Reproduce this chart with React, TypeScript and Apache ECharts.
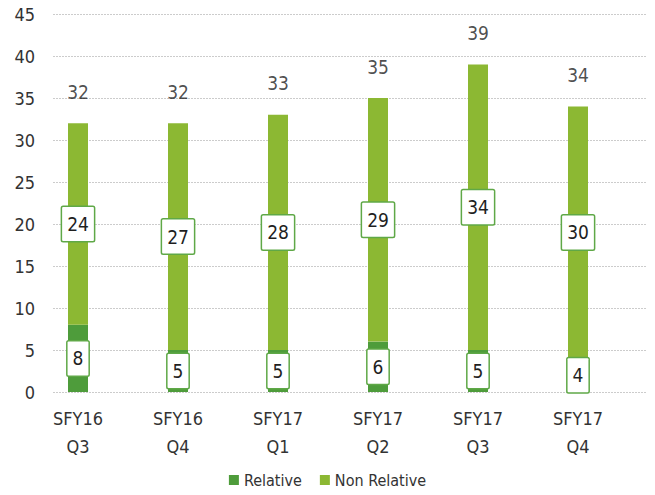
import React, { useEffect, useRef } from "react";
import * as echarts from "echarts";

const categories = ["SFY16\nQ3", "SFY16\nQ4", "SFY17\nQ1", "SFY17\nQ2", "SFY17\nQ3", "SFY17\nQ4"];
const relative = [8, 5, 5, 6, 5, 4];
const nonRelative = [24, 27, 28, 29, 34, 30];
const totals = relative.map((v, i) => v + nonRelative[i]);

const FONT = "'Liberation Sans Narrow', 'Arial Narrow', 'DejaVu Sans Condensed', sans-serif";
const DARK = "#4e9c3b";
const LIGHT = "#8cb833";

export default function App() {
  const ref = useRef<HTMLDivElement>(null);
  useEffect(() => {
    if (!ref.current) return;
    const chart = echarts.init(ref.current, undefined, { renderer: "svg" });
    const boxLabel = {
      show: true,
      position: "inside",
      fontFamily: FONT,
      fontSize: 19,
      color: "#1f1f1f",
      backgroundColor: "#ffffff",
      borderColor: "#5fa847",
      borderWidth: 1.5,
      borderRadius: 1,
      padding: [8, 5, 7, 5],
    };
    chart.setOption({
      animation: false,
      grid: [
        { left: 53, right: 0, top: 14, bottom: 103 },
        { left: 28, width: 600, top: 14, bottom: 103 },
      ],
      legend: {
        bottom: 2,
        left: "center",
        itemWidth: 10,
        itemHeight: 10,
        itemGap: 18,
        icon: "rect",
        textStyle: { fontFamily: FONT, fontSize: 16, color: "#333333" },
        data: ["Relative", "Non Relative"],
      },
      xAxis: [
        { gridIndex: 0, type: "value", min: 0, max: 1, show: false },
        {
          gridIndex: 1,
          type: "category",
          data: categories,
          axisLine: { show: false },
          axisTick: { show: false },
          axisLabel: {
            fontFamily: FONT,
            fontSize: 18,
            color: "#333333",
            lineHeight: 28,
            margin: 12,
          },
        },
      ],
      yAxis: [
        {
          gridIndex: 0,
          type: "value",
          min: 0,
          max: 45,
          interval: 5,
          axisLine: { show: false },
          axisTick: { show: false },
          axisLabel: { fontFamily: FONT, fontSize: 18, color: "#333333", margin: 18 },
          splitLine: { lineStyle: { color: "#cccccc", type: [2, 1], width: 1 } },
        },
        { gridIndex: 1, type: "value", min: 0, max: 45, interval: 5, show: false },
      ],
      series: [
        {
          name: "Relative",
          type: "bar",
          stack: "t",
          xAxisIndex: 1,
          yAxisIndex: 1,
          barWidth: 20,
          data: relative,
          itemStyle: { color: DARK },
          label: boxLabel,
        },
        {
          name: "Non Relative",
          type: "bar",
          stack: "t",
          xAxisIndex: 1,
          yAxisIndex: 1,
          barWidth: 20,
          data: nonRelative,
          itemStyle: { color: LIGHT },
          label: boxLabel,
        },
        {
          name: "Total",
          type: "scatter",
          xAxisIndex: 1,
          yAxisIndex: 1,
          symbolSize: 0,
          data: totals,
          silent: true,
          label: {
            show: true,
            position: "top",
            distance: 22,
            fontFamily: FONT,
            fontSize: 19,
            color: "#1f1f1f",
          },
        },
      ],
    });
    return () => chart.dispose();
  }, []);
  return <div ref={ref} style={{ width: 655, height: 495, margin: -8 }} />;
}
